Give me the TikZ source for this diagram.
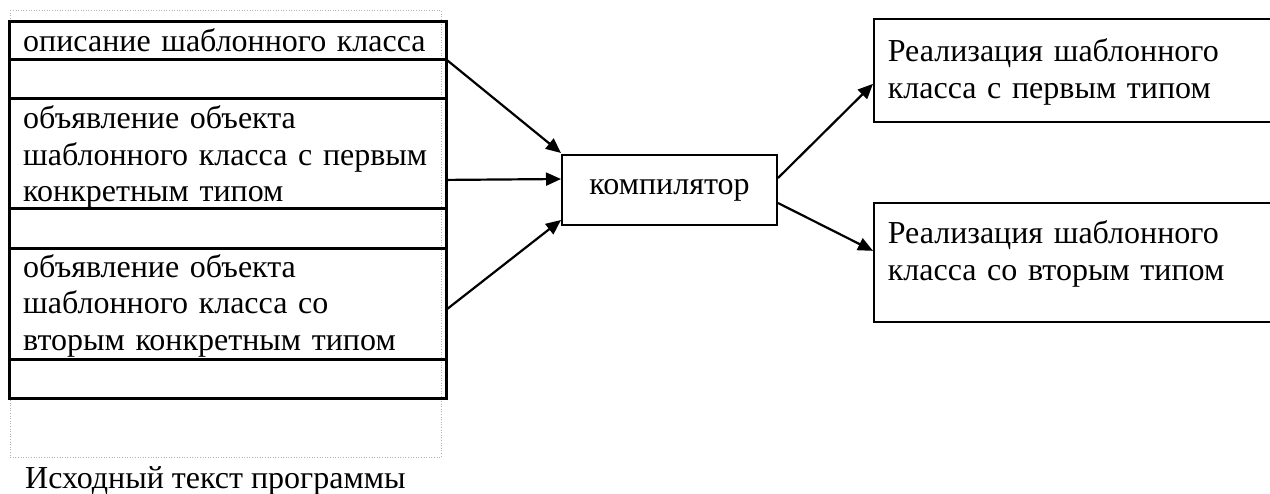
\documentclass[tikz,border=0pt]{standalone}
\usepackage{fontspec}
\setmainfont{Liberation Serif}
\usetikzlibrary{arrows.meta,calc}
\begin{document}
\begin{tikzpicture}[x=1pt,y=-1pt,
  every node/.style={font=\fontsize{32pt}{36.8pt}\selectfont},
  row/.style={draw,line width=2.5pt,anchor=north west,minimum width=437pt,minimum height=#1,
    text width=409pt,inner xsep=14pt,inner ysep=0pt,align=left},
  box/.style={draw,line width=1.7pt,anchor=north west,minimum width=399pt,minimum height=#1,
    text width=371pt,inner xsep=14pt,inner ysep=0pt,align=left},
  conn/.style={-{Triangle[length=15pt,width=13pt]},line width=2.2pt},
  outer/.style={draw=gray!60,dotted,line width=0.6pt}]
\useasboundingbox (0,0) rectangle (1270,493);
% dotted frame of the program text
\draw[outer] (10,10) rectangle (441,457);
% stack of rows
\node[row=38pt] (r1) at (8,20) {описание шаблонного класса};
\node[row=39pt] (r2) at (8,58) {};
\node[row=110pt,text height=30pt] (r3) at (8,97) {объявление объекта\\шаблонного класса с первым\\конкретным типом};
\node[row=40pt] (r4) at (8,207) {};
\node[row=111pt,text height=27pt] (r5) at (8,247) {объявление объекта\\шаблонного класса со\\вторым конкретным типом};
\node[row=39pt] (r6) at (8,358) {};
\node[anchor=base west,inner sep=0pt] (cap) at (25,488) {Исходный текст программы};
% compiler
\node[draw,line width=2pt,minimum width=215pt,minimum height=70pt,inner sep=0pt] (comp) at (669.5,190) {компилятор\hspace{12pt}};
% results
\node[box=103pt,text height=26pt] (o1) at (873,18) {Реализация шаблонного\\класса с первым типом};
\node[box=119pt,text depth=61pt] (o2) at (873,202) {Реализация шаблонного\\класса со вторым типом};
% connectors
\draw[conn] (r1.south east) -- ($(comp.north west)+(0,-1)$);
\draw[conn] ($(r3.south east)+(0,-30)$) -- ($(comp.west)+(0,-11)$);
\draw[conn] ($(r5.east)+(0,5)$) -- ($(comp.south west)+(0,-6)$);
\draw[conn] ($(comp.east)+(0,-12)$) -- ($(o1.west)+(0,13.5)$);
\draw[conn] ($(comp.east)+(0,13)$) -- ($(o2.west)+(0,-11.5)$);
\end{tikzpicture}
\end{document}
